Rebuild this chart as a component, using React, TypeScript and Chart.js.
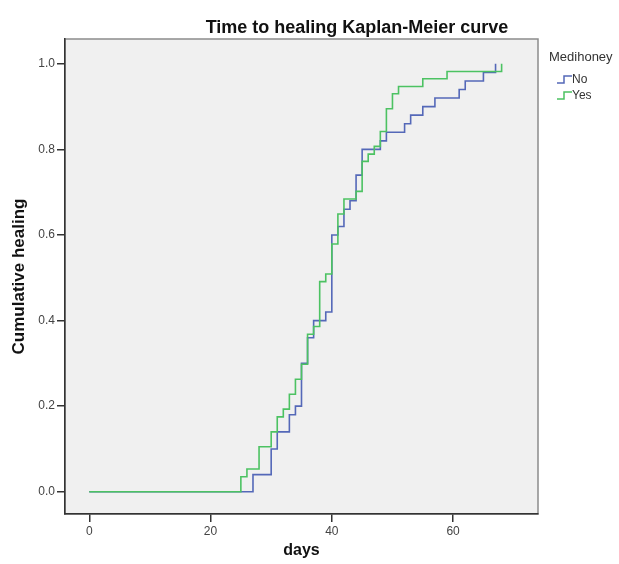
import React, { useEffect, useRef } from 'react';
import { Chart, registerables } from 'chart.js';

Chart.register(...registerables);

// ---- data ----
const chartTitle = 'Time to healing Kaplan-Meier curve';
const xTitle = 'days';
const yTitle = 'Cumulative healing';
const legendTitle = 'Medihoney';
const seriesNames = ['No', 'Yes'];

const noDays = [0, 27, 30, 31, 33, 34, 35, 36, 37, 39, 40, 41, 42, 43, 44, 45, 48, 49, 52, 53, 55, 57, 61, 62, 65, 67];
const noHealing = [0, 0.04, 0.10, 0.14, 0.18, 0.20, 0.30, 0.36, 0.40, 0.42, 0.60, 0.62, 0.66, 0.68, 0.74, 0.80, 0.82, 0.84, 0.86, 0.88, 0.90, 0.92, 0.94, 0.96, 0.98, 1.00];

const yesDays = [0, 25, 26, 28, 30, 31, 32, 33, 34, 35, 36, 37, 38, 39, 40, 41, 42, 44, 45, 46, 47, 48, 49, 50, 51, 55, 59, 68];
const yesHealing = [0, 0.035, 0.053, 0.105, 0.140, 0.175, 0.193, 0.228, 0.263, 0.298, 0.368, 0.386, 0.491, 0.509, 0.579, 0.649, 0.684, 0.702, 0.772, 0.789, 0.807, 0.842, 0.895, 0.930, 0.947, 0.965, 0.982, 1.000];

const xTickValues = [0, 20, 40, 60];
const yTickValues = [0, 0.2, 0.4, 0.6, 0.8, 1.0];

const FONT = 'Arial, "Liberation Sans", sans-serif';
const BLUE = '#5468b8';
const GREEN = '#4cc262';

const backgroundPlugin = {
  id: 'kmBackground',
  beforeDraw(chart: any) {
    const { ctx, chartArea } = chart;
    ctx.save();
    ctx.fillStyle = '#ffffff';
    ctx.fillRect(0, 0, chart.width, chart.height);
    ctx.fillStyle = '#f0f0f0';
    ctx.fillRect(chartArea.left, chartArea.top, chartArea.right - chartArea.left, chartArea.bottom - chartArea.top);
    ctx.strokeStyle = '#8c8c8c';
    ctx.lineWidth = 1.5;
    ctx.strokeRect(chartArea.left, chartArea.top, chartArea.right - chartArea.left, chartArea.bottom - chartArea.top);
    ctx.restore();
  },
};

const textPlugin = {
  id: 'kmText',
  afterDraw(chart: any) {
    const { ctx } = chart;
    ctx.save();
    // title
    ctx.fillStyle = '#111';
    ctx.font = `bold 18px ${FONT}`;
    ctx.textAlign = 'center';
    ctx.textBaseline = 'alphabetic';
    ctx.fillText(chartTitle, 357, 33);
    // legend
    ctx.textAlign = 'left';
    ctx.fillStyle = '#333';
    ctx.font = `13px ${FONT}`;
    ctx.fillText(legendTitle, 549, 61);
    chart.data.datasets.forEach((ds: any, i: number) => {
      const y = 80 + i * 16;
      ctx.strokeStyle = ds.borderColor;
      ctx.lineWidth = 1.5;
      ctx.beginPath();
      ctx.moveTo(557, y + 3);
      ctx.lineTo(564, y + 3);
      ctx.lineTo(564, y - 4);
      ctx.lineTo(572, y - 4);
      ctx.stroke();
      ctx.fillStyle = '#333';
      ctx.font = `12px ${FONT}`;
      ctx.textBaseline = 'middle';
      ctx.fillText(ds.label, 572, y);
    });
    ctx.restore();
  },
};

export default function App() {
  const canvasRef = useRef<HTMLCanvasElement | null>(null);

  useEffect(() => {
    document.body.style.margin = '0';
    document.body.style.overflow = 'hidden';
    const canvas = canvasRef.current;
    if (!canvas) return;
    const chart = new Chart(canvas, {
      type: 'line',
      data: {
        datasets: [
          {
            label: seriesNames[0],
            data: noDays.map((d, i) => ({ x: d, y: noHealing[i] })),
            borderColor: BLUE,
            backgroundColor: BLUE,
            borderWidth: 1.6,
            stepped: 'before',
            pointRadius: 0,
            fill: false,
            order: 2,
          },
          {
            label: seriesNames[1],
            data: yesDays.map((d, i) => ({ x: d, y: yesHealing[i] })),
            borderColor: GREEN,
            backgroundColor: GREEN,
            borderWidth: 1.6,
            stepped: 'before',
            pointRadius: 0,
            fill: false,
            order: 1,
          },
        ],
      },
      options: {
        animation: false,
        responsive: true,
        maintainAspectRatio: false,
        devicePixelRatio: 1,
        layout: { padding: { left: 0, top: 39, right: 81, bottom: 0 } },
        plugins: {
          legend: { display: false },
          title: { display: false },
          tooltip: { enabled: false },
        },
        scales: {
          x: {
            type: 'linear',
            min: -4,
            max: 74,
            afterBuildTicks: (scale: any) => {
              scale.ticks = xTickValues.map((v) => ({ value: v }));
            },
            afterFit: (scale: any) => {
              scale.height = 50;
            },
            ticks: {
              color: '#444',
              font: { family: FONT, size: 12 },
              padding: 2,
              maxRotation: 0,
              callback: (v: any) => String(v),
            },
            grid: {
              display: true,
              drawOnChartArea: false,
              drawTicks: true,
              tickLength: 8,
              color: '#333',
              lineWidth: 1.5,
            },
            border: { display: true, color: '#333', width: 1.5 },
            title: {
              display: true,
              text: xTitle,
              color: '#111',
              font: { family: FONT, size: 16, weight: 'bold' },
              padding: { top: 0, bottom: 4 },
            },
          },
          y: {
            type: 'linear',
            min: -0.052,
            max: 1.058,
            afterBuildTicks: (scale: any) => {
              scale.ticks = yTickValues.map((v) => ({ value: v }));
            },
            afterFit: (scale: any) => {
              scale.width = 65;
            },
            ticks: {
              color: '#444',
              font: { family: FONT, size: 12 },
              padding: 2,
              callback: (v: any) => Number(v).toFixed(1),
            },
            grid: {
              display: true,
              drawOnChartArea: false,
              drawTicks: true,
              tickLength: 8,
              color: '#333',
              lineWidth: 1.5,
            },
            border: { display: true, color: '#333', width: 1.5 },
            title: {
              display: true,
              text: yTitle,
              color: '#111',
              font: { family: FONT, size: 17, weight: 'bold' },
              padding: { top: 9, bottom: 0 },
            },
          },
        },
      },
      plugins: [backgroundPlugin, textPlugin],
    } as any);
    return () => chart.destroy();
  }, []);

  return (
    <div style={{ width: 619, height: 564, position: 'relative' }}>
      <canvas ref={canvasRef} />
    </div>
  );
}
